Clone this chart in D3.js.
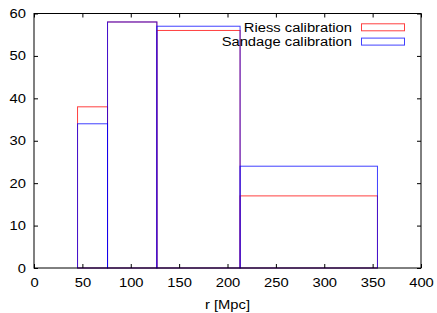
<!DOCTYPE html>
<html>
<head>
<meta charset="utf-8">
<script src="https://cdn.jsdelivr.net/npm/d3@7"></script>
<style>
  body { margin: 0; background: #fff; }
  text { font-family: "Liberation Sans", Arial, sans-serif; font-size: 12.5px; fill: #000; }
</style>
</head>
<body>
<div id="chart"></div>
<script>
// bin edges in Mpc
const binEdges = [45, 76, 127, 213, 355];
const riessCounts = [38, 58, 56, 17];
const sandageCounts = [34, 58, 57, 24];
const seriesNames = ["Riess calibration", "Sandage calibration"];
const xTicks = [0, 50, 100, 150, 200, 250, 300, 350, 400];
const yTicks = [0, 10, 20, 30, 40, 50, 60];

const config = {
  width: 437,
  height: 313,
  margin: { top: 13.5, right: 16, bottom: 45, left: 34 },
};

const width = config.width - config.margin.left - config.margin.right;
const height = config.height - config.margin.top - config.margin.bottom;

const svg = d3
  .select("#chart")
  .append("svg")
  .attr("width", config.width)
  .attr("height", config.height)
  .append("g")
  .attr("transform", `translate(${config.margin.left},${config.margin.top})`);

const xScale = d3.scaleLinear().domain([0, 400]).range([0, width]);
const yScale = d3.scaleLinear().domain([0, 60]).range([height, 0]);

// histograms
const series = [
  { name: seriesNames[0], counts: riessCounts, color: "rgba(255,0,0,0.75)" },
  { name: seriesNames[1], counts: sandageCounts, color: "rgba(0,0,255,0.75)" },
];

series.forEach((s) => {
  const bins = s.counts.map((c, i) => ({ x0: binEdges[i], x1: binEdges[i + 1], c }));
  svg
    .append("g")
    .selectAll("rect")
    .data(bins)
    .join("rect")
    .attr("x", (d) => xScale(d.x0))
    .attr("y", (d) => yScale(d.c))
    .attr("width", (d) => xScale(d.x1) - xScale(d.x0))
    .attr("height", (d) => yScale(0) - yScale(d.c))
    .attr("fill", "none")
    .attr("stroke", s.color)
    .attr("stroke-width", 1);
});

// frame
svg
  .append("rect")
  .attr("width", width)
  .attr("height", height)
  .attr("fill", "none")
  .attr("stroke", "#000")
  .attr("stroke-width", 1);

// axes with inward ticks, mirrored
const tickLen = 4;
const xAxis = d3.axisBottom(xScale).tickValues(xTicks).tickSize(-tickLen).tickPadding(10);
const yAxis = d3.axisLeft(yScale).tickValues(yTicks).tickSize(-tickLen).tickPadding(8);

const xAxisGroup = svg.append("g").attr("transform", `translate(0,${height})`).call(xAxis);
const yAxisGroup = svg.append("g").call(yAxis);
const xTop = svg.append("g").call(d3.axisTop(xScale).tickValues(xTicks).tickSize(-tickLen).tickFormat(""));
const yRight = svg
  .append("g")
  .attr("transform", `translate(${width},0)`)
  .call(d3.axisRight(yScale).tickValues(yTicks).tickSize(-tickLen).tickFormat(""));

[xAxisGroup, yAxisGroup, xTop, yRight].forEach((g) => {
  g.select(".domain").remove();
  g.selectAll("text").attr("font-size", null).attr("font-family", null);
});
yAxisGroup.selectAll("text").attr("dx", 0);

svg
  .append("text")
  .attr("text-anchor", "middle")
  .attr("x", xScale(200))
  .attr("y", height + 41)
  .text("r [Mpc]");

// legend
const legend = svg.append("g").attr("transform", `translate(${width - 69},0)`);
series.forEach((s, i) => {
  const row = legend.append("g").attr("transform", `translate(0,${13.8 + i * 14.3})`);
  row
    .append("text")
    .attr("x", 0)
    .attr("y", 0)
    .attr("dy", "0.35em")
    .attr("text-anchor", "end")
    .text(s.name);
  row
    .append("rect")
    .attr("x", 9.5)
    .attr("y", -3.5)
    .attr("width", 43)
    .attr("height", 7)
    .attr("fill", "none")
    .attr("stroke", s.color);
});

// the reference text is a little wider than Liberation Sans
d3.selectAll("text").each(function () {
  const len = this.getComputedTextLength();
  d3.select(this).attr("textLength", len * 1.18).attr("lengthAdjust", "spacingAndGlyphs");
});
</script>
</body>
</html>
